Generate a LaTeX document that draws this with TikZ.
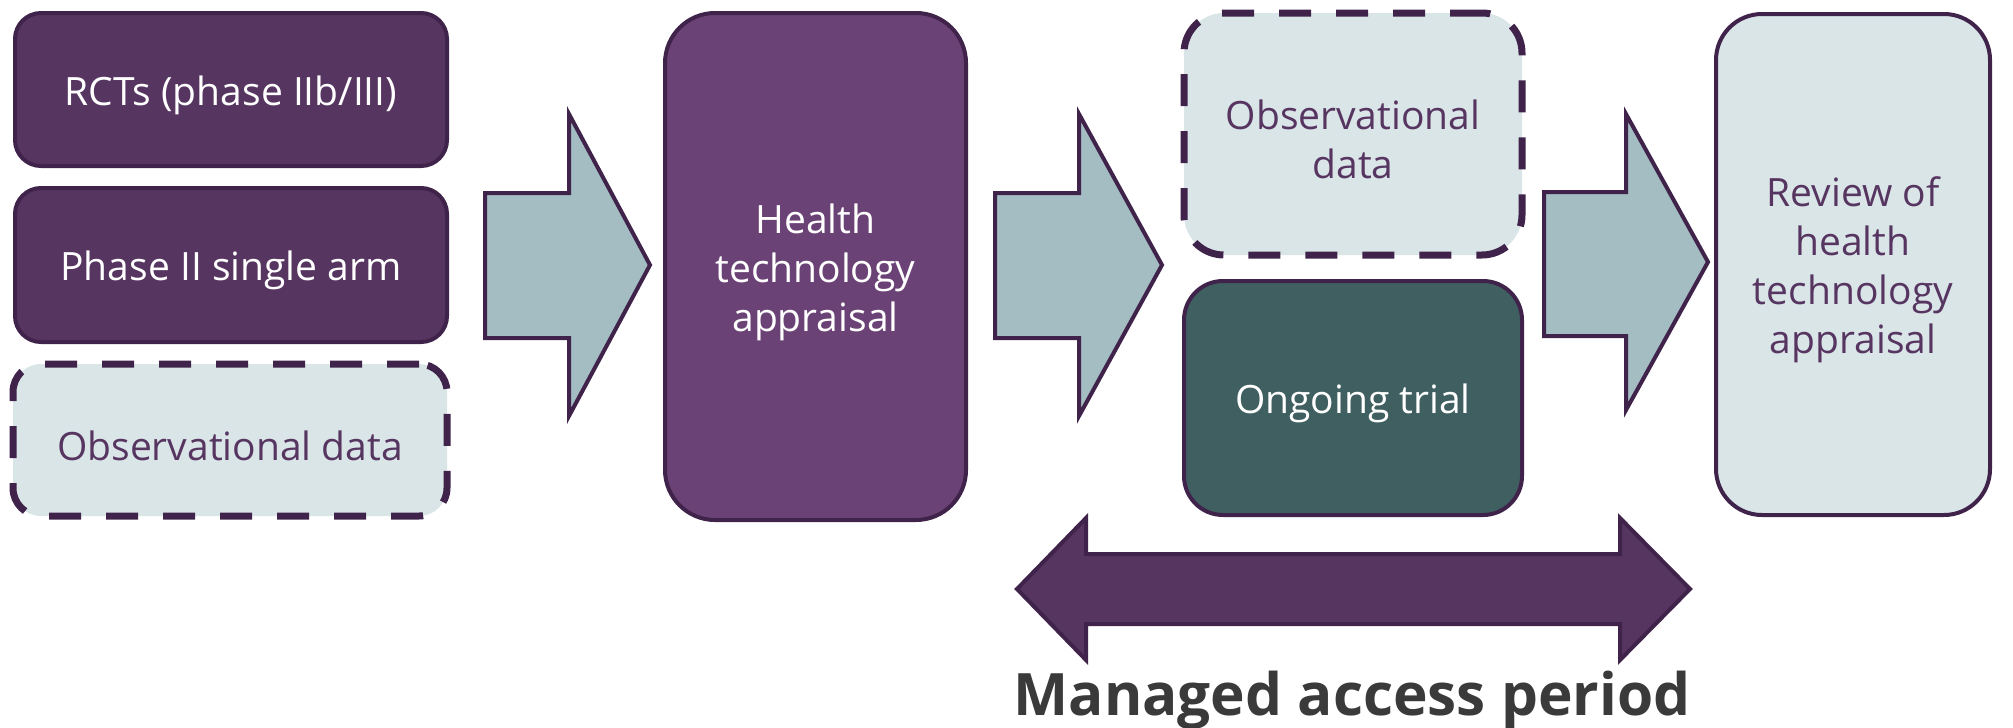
\documentclass[tikz,border=0pt]{standalone}
\usepackage{fontspec}
\setmainfont{Open Sans}
\definecolor{edge}{HTML}{40234A}
\definecolor{plum}{HTML}{573561}
\definecolor{plumlight}{HTML}{6B4275}
\definecolor{mist}{HTML}{DAE5E8}
\definecolor{teal}{HTML}{3F5F61}
\definecolor{arrowfill}{HTML}{A3BDC2}
\definecolor{labelgray}{HTML}{3A3A3A}
% taller first line so the box text sits a little lower
\newcommand\topstrut{\rule{0pt}{41pt}}
\begin{document}
\begin{tikzpicture}[x=1pt,y=-1pt,
  box/.style={draw=edge, line width=4pt, align=center, inner sep=0pt,
    font=\fontsize{39}{49}\selectfont},
  darkbox/.style={box, fill=plum, text=white},
  lightbox/.style={box, fill=mist, text=plum},
  dashbox/.style={lightbox, line width=7pt, dash pattern=on 32pt off 25pt},
  blockarrow/.style={draw=edge, line width=4pt, fill=arrowfill, line join=miter},
  spanarrow/.style={draw=edge, line width=4pt, fill=plum, line join=miter}]
\useasboundingbox (0,0) rectangle (2013,728);

% evidence sources
\node[darkbox, minimum width=432pt, minimum height=153pt, rounded corners=26pt]
  (rct) at (231,89.5) {\topstrut RCTs (phase IIb/III)};
\node[darkbox, minimum width=432pt, minimum height=154pt, rounded corners=26pt]
  (ph2) at (231,265) {\topstrut Phase II single arm};
\node[dashbox, minimum width=434pt, minimum height=152pt, rounded corners=28pt]
  (obs1) at (230,440) {\topstrut Observational data};

% appraisal
\node[box, fill=plumlight, text=white, minimum width=301pt, minimum height=507pt,
  rounded corners=50pt] (hta) at (815.5,266.5) {\topstrut Health\\technology\\appraisal};

% data collection during managed access
\node[dashbox, minimum width=338pt, minimum height=242pt, rounded corners=40pt]
  (obs2) at (1353,134) {\topstrut Observational\\data};
\node[box, fill=teal, text=white, minimum width=338pt, minimum height=234pt,
  rounded corners=39pt] (ongo) at (1353,398) {\topstrut Ongoing trial};

% review
\node[lightbox, minimum width=274pt, minimum height=501pt, rounded corners=46pt]
  (rev) at (1853,264.5) {\topstrut Review of\\health\\technology\\appraisal};

% block arrows between stages
\draw[blockarrow] (485,193) -- (569,193) -- (569,114) -- (650,265)
  -- (569,416) -- (569,338) -- (485,338) -- cycle;
\draw[blockarrow] (995,193) -- (1079,193) -- (1079,114) -- (1162,265)
  -- (1079,416) -- (1079,338) -- (995,338) -- cycle;
\draw[blockarrow] (1544,192) -- (1626,192) -- (1626,114) -- (1708,262)
  -- (1626,410) -- (1626,336) -- (1544,336) -- cycle;

% managed access period span
\draw[spanarrow] (1017,589) -- (1086,518) -- (1086,554) -- (1620,554)
  -- (1620,518) -- (1690,589) -- (1620,660) -- (1620,624) -- (1086,624)
  -- (1086,660) -- cycle;
\node[anchor=base, inner sep=0pt, text=labelgray,
  font=\bfseries\fontsize{58.5}{60}\selectfont] (map) at (1352,715)
  {Managed access period};
\end{tikzpicture}
\end{document}
